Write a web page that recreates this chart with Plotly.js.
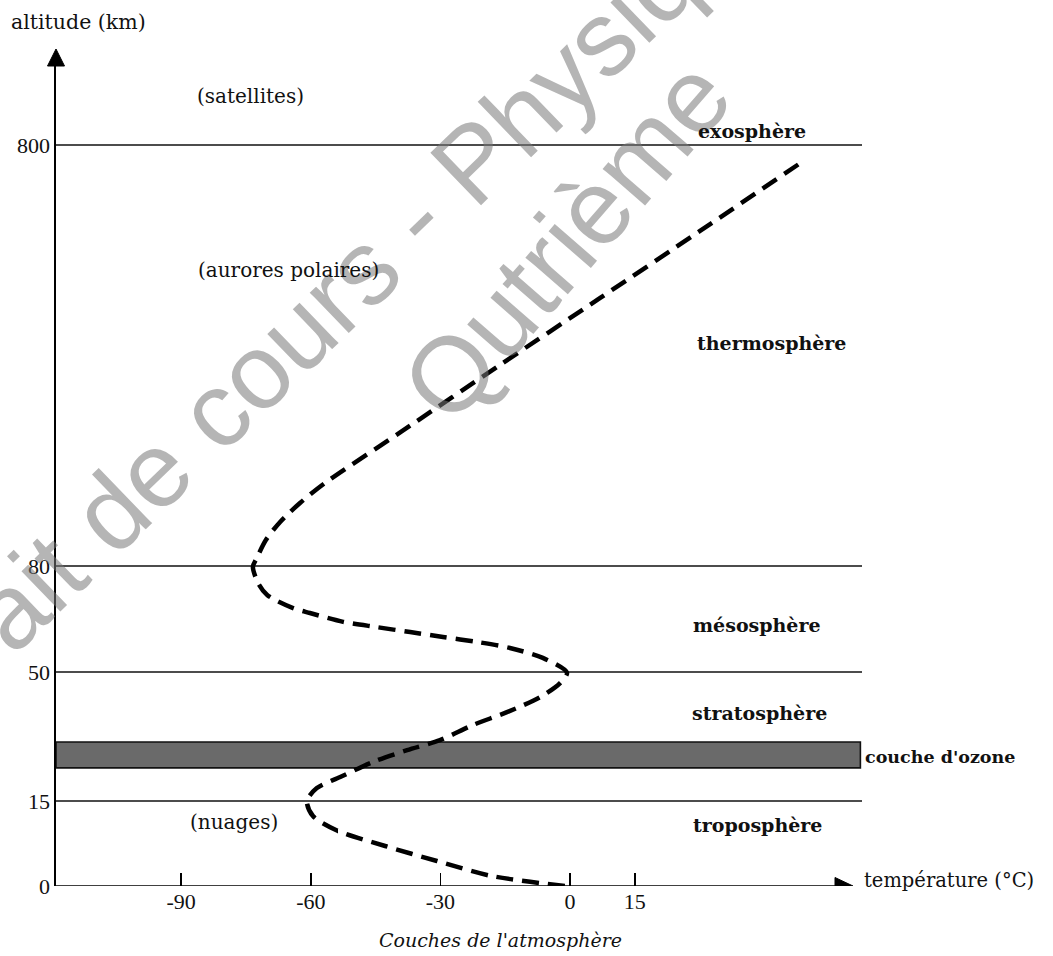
<!DOCTYPE html>
<html>
<head>
<meta charset="utf-8">
<script src="https://cdn.plot.ly/plotly-3.0.1.min.js"></script>
<style>html,body{margin:0;padding:0;background:#fff;}#chart{width:1053px;height:956px;}</style>
</head>
<body>
<div id="chart"></div>
<script>
// ---------- data ----------
const ALT_TICKS = [0, 15, 50, 80, 800];               // altitude tick labels (km)
const TEMP_TICKS = [-90, -60, -30, 0, 15];            // temperature tick labels (°C)
const BOUNDARIES = [15, 50, 80, 800];                 // layer boundaries (km)
const OZONE = [24, 31];                               // ozone layer (km)

const curveTemp = [-1.2, -18.1, -30.8, -42.8, -53.7, -59.5, -60.9,
  -58.6, -53.2, -45.6, -37.7, -30.1, -22.5, -14.6, -6.9, -2.3, -0.7,
  -6.3, -13.9, -21.5, -29.4, -37.0, -44.7, -52.5, -60.2, -64.1, -70.1, -72.2, -73.4,
  -72.5, -70.4, -67.1, -62.5, -56.7, -39.4, -16.2, 6.9, 30.1, 53.7];
const curveAlt = [0, 1.76, 4.41, 7.06, 9.7, 12.35, 15,
  18.5, 21.5, 25.6, 28.8, 31.5, 35.6, 39.1, 43.2, 47.0, 49.8,
  54.0, 56.8, 58.5, 59.9, 61.3, 62.7, 64.2, 66.7, 68.1, 71.8, 75.2, 79.8,
  93.7, 124.5, 155.3, 187.7, 222, 308, 424, 538, 653, 771];

const LAYER_NAMES = ['exosphère', 'thermosphère', 'mésosphère', 'stratosphère', 'troposphère'];
const NOTES = ['(satellites)', '(aurores polaires)', '(nuages)'];

// ---------- layout helpers (broken altitude axis) ----------
const ALT_POS = [0, 85, 214, 320, 741];   // display height of each altitude tick
function altToPos(a) {
  for (let i = 1; i < ALT_TICKS.length; i++) {
    if (a <= ALT_TICKS[i] || i === ALT_TICKS.length - 1) {
      const a0 = ALT_TICKS[i - 1], a1 = ALT_TICKS[i];
      const p0 = ALT_POS[i - 1], p1 = ALT_POS[i];
      return p0 + (a - a0) * (p1 - p0) / (a1 - a0);
    }
  }
}
const PL = {l: 56, r: 862, t: 62, b: 886};
const W = 1053, H = 956;
const px = x => (x - PL.l) / (PL.r - PL.l);
const py = y => (PL.b - y) / (PL.b - PL.t);

const serif = 'DejaVu Serif';
const tickSerif = 'Liberation Serif';

const trace = {
  x: curveTemp,
  y: curveAlt.map(altToPos),
  mode: 'lines',
  type: 'scatter',
  line: {color: '#000', width: 4.5, dash: '17px,9px', shape: 'spline', smoothing: 0.8},
  hoverinfo: 'skip',
  showlegend: false
};

const shapes = [];
BOUNDARIES.forEach(b => {
  shapes.push({type: 'line', layer: 'below', xref: 'paper', yref: 'y', x0: 0, x1: 1,
    y0: altToPos(b), y1: altToPos(b), line: {color: '#111', width: 1.7}});
});
shapes.push({type: 'rect', layer: 'below', xref: 'paper', yref: 'y', x0: 0, x1: 0.998,
  y0: altToPos(OZONE[0]), y1: altToPos(OZONE[1]),
  fillcolor: '#6a6a6a', line: {color: '#111', width: 1.6}});
// x axis line + arrow
shapes.push({type: 'line', xref: 'paper', yref: 'y', x0: 0, x1: px(840), y0: 0, y1: 0,
  line: {color: '#000', width: 1.7}});
shapes.push({type: 'path', xref: 'paper', yref: 'y', xsizemode: 'pixel', ysizemode: 'pixel',
  xanchor: px(853), yanchor: 0, path: 'M0,0 L-18,8.5 L-18,-8.5 Z',
  fillcolor: '#000', line: {color: '#000', width: 1}});
// y axis arrow
shapes.push({type: 'path', xref: 'paper', yref: 'paper', xsizemode: 'pixel', ysizemode: 'pixel',
  xanchor: 0, yanchor: 1, path: 'M0,13 L-8.5,-4 L8.5,-4 Z',
  fillcolor: '#000', line: {color: '#000', width: 1}});

function ann(text, x, y, opts) {
  return Object.assign({text: text, xref: 'paper', yref: 'paper', x: px(x), y: py(y),
    xanchor: 'center', yanchor: 'middle', showarrow: false,
    font: {family: serif, size: 20, color: '#111'}}, opts || {});
}
const bold = s => ({family: serif, size: s, color: '#111', weight: 'bold'});

const LAYER_XY = [[752, 131], [771, 343], [757, 625], [759, 713], [757, 825]];
const NOTE_XY = [[250, 96], [288, 270], [234, 822]];

const annotations = [];
// watermark (drawn first, light grey, rotated)
const wm = {family: 'Liberation Sans', size: 106, color: 'rgba(120,120,120,0.55)'};
annotations.push(ann('Extrait de cours - Physique', 307, 322, {textangle: -44, font: wm}));
annotations.push(ann('Qutrième', 566, 240, {textangle: -49, font: wm}));

LAYER_NAMES.forEach((n, i) => annotations.push(ann(n, LAYER_XY[i][0], LAYER_XY[i][1], {font: bold(19)})));
NOTES.forEach((n, i) => annotations.push(ann(n, NOTE_XY[i][0], NOTE_XY[i][1], {font: {family: serif, size: 20, color: '#111'}})));
annotations.push(ann("couche d'ozone", 863, 757, {xanchor: 'left', font: bold(17.5)}));
annotations.push(ann('altitude (km)', 78, 22, {font: {family: serif, size: 20.5, color: '#111'}}));
annotations.push(ann('température (°C)', 862, 880, {xanchor: 'left', font: {family: serif, size: 19.5, color: '#111'}}));
annotations.push(ann("Couches de l'atmosphère", 500, 940, {font: {family: serif, size: 19, color: '#111', style: 'italic'}}));

const layout = {
  width: W, height: H,
  margin: {l: PL.l, r: W - PL.r, t: PL.t, b: H - PL.b, pad: 0},
  paper_bgcolor: '#fff', plot_bgcolor: 'rgba(0,0,0,0)',
  showlegend: false,
  xaxis: {
    range: [(PL.l - 570) / 4.32, (PL.r - 570) / 4.32],
    tickvals: TEMP_TICKS, ticktext: TEMP_TICKS.map(String),
    ticks: 'inside', ticklen: 13, tickwidth: 1.5, tickcolor: '#000',
    showline: false, showgrid: false, zeroline: false,
    tickfont: {family: tickSerif, size: 22, color: '#111'},
    fixedrange: true
  },
  yaxis: {
    range: [0, PL.b - PL.t],
    tickvals: ALT_TICKS.map(altToPos), ticktext: ALT_TICKS.map(String),
    ticks: '', showline: true, linecolor: '#000', linewidth: 1.7,
    showgrid: false, zeroline: false,
    tickfont: {family: tickSerif, size: 22, color: '#111'},
    fixedrange: true
  },
  shapes: shapes,
  annotations: annotations
};

Plotly.newPlot('chart', [trace], layout, {staticPlot: true, displayModeBar: false});
</script>
</body>
</html>
